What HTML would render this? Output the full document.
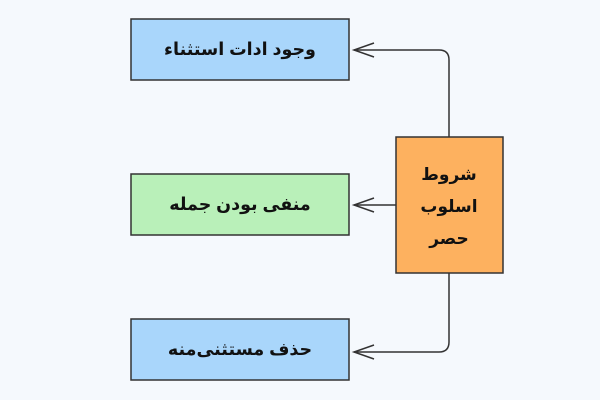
<!DOCTYPE html>
<html><head><meta charset="utf-8"><style>
html,body{margin:0;padding:0;background:#f5f9fd;}
svg{display:block}
text{font-family:"Liberation Sans","DejaVu Sans",sans-serif;font-weight:bold;font-size:17.5px;fill:#111;}
</style></head><body>
<svg width="600" height="400" viewBox="0 0 600 400">
<rect width="600" height="400" fill="#f5f9fd"/>
<rect x="131" y="19" width="218" height="61" fill="#a9d6fb" stroke="#333" stroke-width="1.5"/>
<rect x="131" y="174" width="218" height="61" fill="#b9f0b9" stroke="#333" stroke-width="1.5"/>
<rect x="131" y="319" width="218" height="61" fill="#a9d6fb" stroke="#333" stroke-width="1.5"/>
<rect x="396" y="137" width="107" height="136" fill="#fdb15f" stroke="#333" stroke-width="1.5"/>
<text x="240" y="55" text-anchor="middle" direction="rtl">وجود ادات استثناء</text>
<text x="240" y="210" text-anchor="middle" direction="rtl">منفی بودن جمله</text>
<text x="240" y="355" text-anchor="middle" direction="rtl">حذف مستثنی‌منه</text>
<text x="449" y="180" text-anchor="middle" direction="rtl" style="font-size:17px">شروط</text>
<text x="449" y="212" text-anchor="middle" direction="rtl" style="font-size:17px">اسلوب</text>
<text x="449" y="244" text-anchor="middle" direction="rtl" style="font-size:17px">حصر</text>
<g fill="none" stroke="#333" stroke-width="1.5">
<path d="M449 137 V60 Q449 50 439 50 H354"/>
<path d="M374 43 L354 50 L374 57"/>
<path d="M396 205 H354"/>
<path d="M374 198 L354 205 L374 212"/>
<path d="M449 273 V342 Q449 352 439 352 H354"/>
<path d="M374 345 L354 352 L374 359"/>
</g>
</svg>
</body></html>
